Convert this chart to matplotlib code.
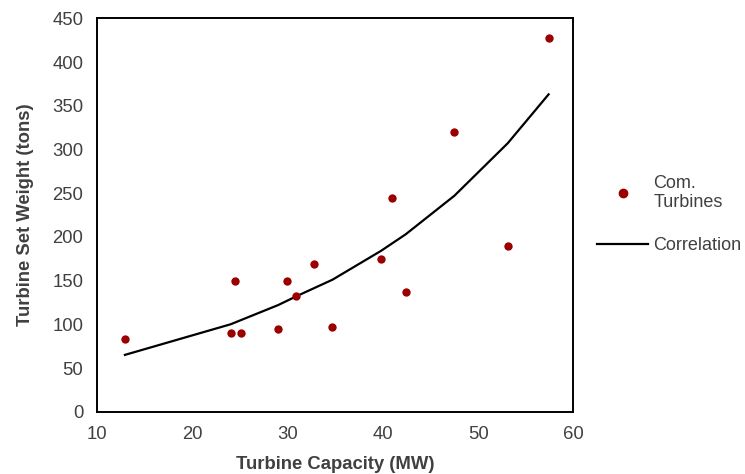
import matplotlib
matplotlib.use("Agg")
import matplotlib.pyplot as plt
from matplotlib.lines import Line2D

# turbine data
capacity_mw = [12.9, 24.0, 24.5, 25.1, 29.0, 29.9, 30.9, 32.8, 34.7, 39.8, 41.0, 42.4, 47.5, 53.1, 57.4]
weight_tons = [83, 90, 150, 90, 95, 150, 132, 169, 97, 175, 245, 137, 320, 190, 428]

corr_x = [12.9, 24.0, 29.0, 30.9, 34.7, 39.8, 42.4, 47.5, 53.1, 57.4]
corr_y = [65, 100, 122, 132, 151, 184, 203, 247, 307, 363]

x_ticks = [10, 20, 30, 40, 50, 60]
y_ticks = [0, 50, 100, 150, 200, 250, 300, 350, 400, 450]

TEXT = "#404040"
FS = 13.3


def main():
    plt.rcParams["font.family"] = ["Liberation Sans", "DejaVu Sans"]
    fig = plt.figure(figsize=(7.45, 4.74), dpi=100)
    ax = fig.add_axes([0.1306, 0.1314, 0.639, 0.83])

    ax.plot(corr_x, corr_y, color="black", linewidth=1.6, zorder=2)
    ax.scatter(capacity_mw, weight_tons, s=36, color="#9b0000", zorder=3, linewidths=0)

    ax.set_xlim(10, 60)
    ax.set_ylim(0, 450)
    ax.set_xticks(x_ticks)
    ax.set_yticks(y_ticks)
    ax.tick_params(length=0, labelsize=FS, labelcolor=TEXT)
    ax.tick_params(axis="x", pad=10)
    ax.tick_params(axis="y", pad=10)
    for s in ax.spines.values():
        s.set_linewidth(1.4)
        s.set_color("black")

    ax.set_xlabel("Turbine Capacity (MW)", fontsize=FS, fontweight="bold", color=TEXT, labelpad=10)
    ax.set_ylabel("Turbine Set Weight (tons)", fontsize=FS, fontweight="bold", color=TEXT, labelpad=13)

    handles = [
        Line2D([], [], marker="o", linestyle="none", color="#9b0000", markersize=6),
        Line2D([], [], color="black", linewidth=1.6),
    ]
    leg = fig.legend(handles, ["Com.\nTurbines", "Correlation"],
                     loc="upper left", bbox_to_anchor=(0.78, 0.666),
                     frameon=False, fontsize=13, handlelength=2.82,
                     handletextpad=0.27, labelspacing=1.45)
    for t in leg.get_texts():
        t.set_color(TEXT)

    fig.savefig("out.png", dpi=100)


if __name__ == "__main__":
    main()
